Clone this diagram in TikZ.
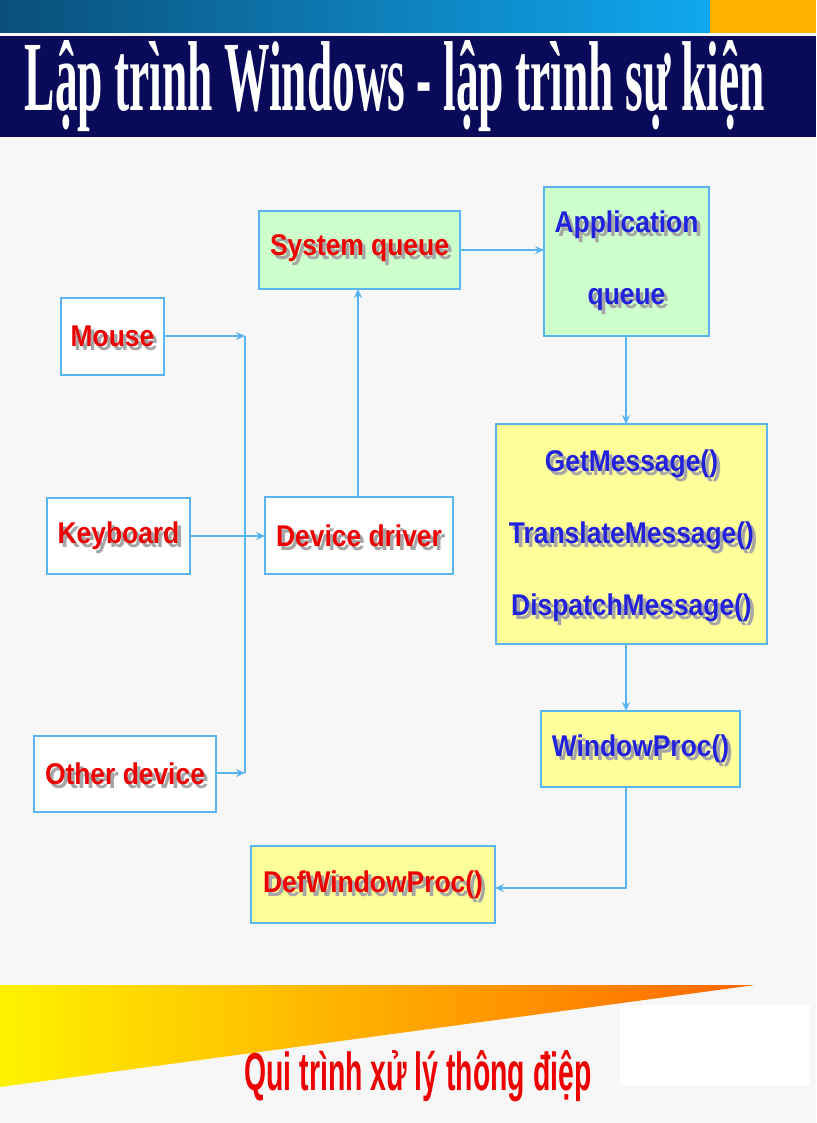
\documentclass[tikz,border=0pt]{standalone}
\usepackage{fontspec}
\setmainfont{Liberation Serif}
\setsansfont{Liberation Sans}
\usetikzlibrary{arrows.meta}
\definecolor{navy}{HTML}{0A0A5A}
\definecolor{tealdk}{HTML}{0A4F7A}
\definecolor{skyl}{HTML}{10A8F0}
\definecolor{lnblue}{HTML}{5AB4EE}
\definecolor{gfill}{HTML}{CCFFCC}
\definecolor{yfill}{HTML}{FFFF99}
\definecolor{txtred}{HTML}{EE0000}
\definecolor{txtblue}{HTML}{2222DD}
\newcommand\shtx[1]{\scalebox{0.88}[1]{\rlap{\raisebox{-4pt}{\hspace{4pt}\textcolor{gray!70}{#1}}}#1}}
\tikzset{
 bx/.style={draw=lnblue, line width=1.5pt, inner sep=0pt},
 lbl/.style={font=\sffamily\bfseries\fontsize{30}{72}\selectfont, align=center},
 cn/.style={draw=lnblue, line width=1.3pt},
 ar/.style={cn, -{Stealth[length=9pt,width=8pt]}}
}
\begin{document}
\begin{tikzpicture}[x=1pt,y=-1pt]
\useasboundingbox (0,0) rectangle (816,1123);
\fill[gray!6] (0,0) rectangle (816,1123);
% top band
\shade[left color=tealdk, right color=skyl] (0,0) rectangle (710,33);
\fill[orange!60!yellow] (710,0) rectangle (816,33);
\fill[navy] (0,36) rectangle (816,137);
\node[text=white, font=\bfseries, inner sep=0pt] (title) at (395,86) {\resizebox{740pt}{70pt}{Lập trình Windows - lập trình sự kiện}};
% boxes
\draw[bx, fill=gfill] (259,211) rectangle (460,289);
\node[lbl, text=txtred] (sq) at (359.5,250) {\shtx{System queue}};
\draw[bx, fill=gfill] (544,187) rectangle (709,336);
\node[lbl, text=txtblue] (aq) at (626.5,263) {\shtx{Application}\\\shtx{queue}};
\draw[bx, fill=white] (61,298) rectangle (164,375);
\node[lbl, text=txtred] (mouse) at (112.5,338) {\shtx{Mouse}};
\draw[bx, fill=white] (47,498) rectangle (190,574);
\node[lbl, text=txtred] (kb) at (118.5,538) {\shtx{Keyboard}};
\draw[bx, fill=white] (265,497) rectangle (453,574);
\node[lbl, text=txtred] (dd) at (359,538) {\shtx{Device driver}};
\draw[bx, fill=white] (34,736) rectangle (216,812);
\node[lbl, text=txtred] (od) at (125,776) {\shtx{Other device}};
\draw[bx, fill=yfill] (496,424) rectangle (767,644);
\node[lbl, text=txtblue] (gm) at (631.5,538) {\shtx{GetMessage()}\\\shtx{TranslateMessage()}\\\shtx{DispatchMessage()}};
\draw[bx, fill=yfill] (541,711) rectangle (740,787);
\node[lbl, text=txtblue] (wp) at (640.5,751) {\shtx{WindowProc()}};
\draw[bx, fill=yfill] (251,846) rectangle (495,923);
\node[lbl, text=txtred] (dwp) at (373,887) {\shtx{DefWindowProc()}};
% coordinates
\coordinate (mR) at (164,336); \coordinate (jM) at (245,336);
\coordinate (oR) at (216,773); \coordinate (jO) at (245,773);
\coordinate (kR) at (190,536); \coordinate (dL) at (265,536);
\coordinate (dT) at (358,497); \coordinate (sB) at (358,289);
\coordinate (sR) at (460,250); \coordinate (aL) at (544,250);
\coordinate (aB) at (626,336); \coordinate (gT) at (626,424);
\coordinate (gB) at (626,644); \coordinate (wT) at (626,711);
\coordinate (wB) at (626,787); \coordinate (cr) at (626,888);
\coordinate (dR) at (495,888);
\draw[ar] (mR) -- (jM);
\draw[cn] (jM) -- (jO);
\draw[ar] (oR) -- (jO);
\draw[ar] (kR) -- (dL);
\draw[ar] (dT) -- (sB);
\draw[ar] (sR) -- (aL);
\draw[ar] (aB) -- (gT);
\draw[ar] (gB) -- (wT);
\draw[ar] (wB) -- (cr) -- (dR);
% bottom wedge
\shade[left color=yellow!90!orange, right color=orange!80!red] (0,985) -- (755,985) -- (0,1087) -- cycle;
\fill[white] (620,1005) rectangle (810,1085);
\node[text=txtred, font=\sffamily\bfseries, inner sep=0pt] (cap) at (418,1076) {\resizebox{347pt}{40pt}{Qui trình xử lý thông điệp}};
\end{tikzpicture}
\end{document}
